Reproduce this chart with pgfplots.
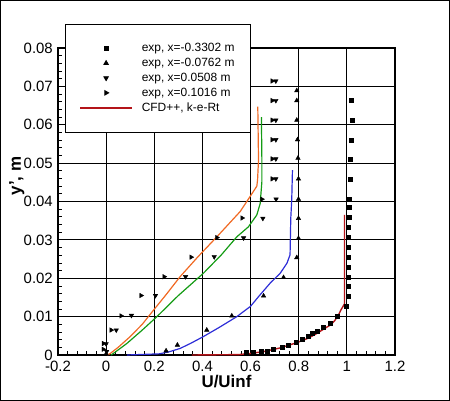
\documentclass[border=0pt]{standalone}
\usepackage{pgfplots}
\pgfplotsset{compat=1.18}
\usepackage{fontspec}
\setmainfont{Liberation Sans}
\definecolor{cfdred}{RGB}{180,20,25}
\definecolor{cfdblue}{RGB}{45,45,215}
\definecolor{cfdgreen}{RGB}{20,155,20}
\definecolor{cfdorange}{RGB}{240,105,35}
\begin{document}
\begin{tikzpicture}[x=1bp,y=1bp]
\begin{axis}[
  at={(58bp,46bp)}, anchor=south west,
  scale only axis, width=337bp, height=307bp,
  xmin=-0.2, xmax=1.2, ymin=0, ymax=0.08,
  scaled x ticks=false, scaled y ticks=false,
  xtick={-0.2,0,0.2,0.4,0.6,0.8,1,1.2},
  xticklabels={-0.2,0,0.2,0.4,0.6,0.8,1,1.2},
  ytick={0,0.01,0.02,0.03,0.04,0.05,0.06,0.07,0.08},
  yticklabels={0,0.01,0.02,0.03,0.04,0.05,0.06,0.07,0.08},
  minor x tick num=4, minor y tick num=4,
  xtick pos=lower, ytick pos=left,
  tick align=inside,
  major tick length=8bp, minor tick length=4bp,
  tick style={black, line width=0.8bp},
  grid=major,
  major grid style={black, line width=0.8bp},
  axis line style={black, line width=1.6bp},
  ticklabel style={font=\fontsize{15}{17}\selectfont},
  xticklabel style={inner sep=0pt, yshift=-6bp},
  yticklabel style={inner sep=0pt, xshift=-5bp},
  xlabel={\textbf{U/Uinf}},
  ylabel={\textbf{y', m}},
  label style={font=\fontsize{17}{19}\selectfont},
  xlabel style={at={(axis description cs:0.5,-0.088)}, anchor=center},
  ylabel style={at={(axis description cs:-0.122,0.583)}, anchor=center},
  legend cell align=left,
  legend image code/.code={\draw[mark repeat=2,mark phase=2,#1] plot coordinates {(0bp,0bp) (26bp,0bp) (52bp,0bp)};},
  legend style={at={(axis description cs:0.0208,1.078)}, anchor=north west,
    font=\fontsize{12}{14}\selectfont, draw=black, line width=0.8bp, fill=white,
    inner xsep=14bp, inner ysep=17bp, row sep=1bp,
    /tikz/every odd column/.append style={column sep=7bp}},
]
% exp, x=-0.3302 m
\addplot[only marks, mark=square*, mark size=2bp, black] coordinates {
(0.582,0.0006)(0.612,0.0007)(0.643,0.0010)(0.668,0.0011)(0.695,0.0015)(0.730,0.0020)
(0.757,0.0026)(0.789,0.0033)(0.815,0.0042)(0.838,0.0050)(0.858,0.0056)(0.878,0.0063)
(0.902,0.0072)(0.930,0.0084)(0.958,0.0102)(0.996,0.0128)(1.007,0.0154)(1.007,0.0180)
(1.007,0.0204)(1.007,0.0230)(1.007,0.0256)(1.007,0.0282)(1.007,0.0307)(1.007,0.0332)
(1.009,0.0359)(1.009,0.0384)(1.009,0.0407)(1.012,0.0459)(1.012,0.0511)(1.018,0.0560)
(1.022,0.0612)(1.018,0.0663)};
\addlegendentry{exp, x=-0.3302 m}
% exp, x=-0.0762 m
\addplot[only marks, mark=triangle*, mark size=2.6bp, black] coordinates {
(0.000,0.0003)(0.249,0.0011)(0.296,0.0026)(0.418,0.0065)(0.522,0.0102)(0.654,0.0154)
(0.737,0.0202)(0.792,0.0254)(0.799,0.0304)(0.799,0.0356)(0.799,0.0406)(0.799,0.0459)
(0.797,0.0513)(0.795,0.0561)(0.792,0.0612)(0.792,0.0663)(0.792,0.0689)};
\addlegendentry{exp, x=-0.0762 m}
% exp, x=0.0508 m
\addplot[only marks, mark=triangle*, mark size=2.6bp, black, every mark/.append style={rotate=180}] coordinates {
(0.002,0.0009)(0.000,0.0029)(0.042,0.0065)(0.105,0.0103)(0.205,0.0155)(0.330,0.0204)
(0.449,0.0256)(0.571,0.0305)(0.651,0.0356)(0.706,0.0406)(0.705,0.0459)(0.705,0.0511)
(0.705,0.0561)(0.705,0.0612)(0.705,0.0663)(0.705,0.0714)};
\addlegendentry{exp, x=0.0508 m}
% exp, x=0.1016 m
\addplot[only marks, mark=triangle*, mark size=2.6bp, black, every mark/.append style={rotate=-90}] coordinates {
(-0.012,0.0015)(-0.011,0.0030)(0.021,0.0065)(0.062,0.0102)(0.145,0.0155)(0.241,0.0204)
(0.353,0.0255)(0.460,0.0306)(0.565,0.0357)(0.647,0.0406)(0.690,0.0459)(0.690,0.0511)
(0.690,0.0561)(0.690,0.0612)(0.690,0.0663)(0.690,0.0714)};
\addlegendentry{exp, x=0.1016 m}
% CFD curves
\addplot[cfdred, line width=1.4bp, mark=none] coordinates {
(0.356,0)(0.55,0.0001)(0.60,0.0004)(0.654,0.0009)(0.72,0.0018)(0.792,0.0032)(0.84,0.0044)
(0.875,0.0056)(0.905,0.0068)(0.931,0.0078)(0.950,0.0090)(0.965,0.0104)(0.975,0.0117)
(0.990,0.0133)(0.990,0.0365)};
\addlegendentry{CFD++, k-e-Rt}
\addplot[cfdblue, line width=1.2bp, mark=none, forget plot] coordinates {
(0.086,0)(0.22,0.0003)(0.26,0.0008)(0.307,0.0017)(0.35,0.0030)(0.404,0.0048)(0.47,0.0072)
(0.543,0.0100)(0.60,0.0127)(0.633,0.0152)(0.681,0.0187)(0.723,0.0213)(0.751,0.0239)
(0.764,0.0261)(0.767,0.0356)(0.771,0.0404)(0.774,0.0482)};
\addplot[cfdgreen, line width=1.2bp, mark=none, forget plot] coordinates {
(0.02,0)(0.030,0.0004)(0.086,0.0030)(0.15,0.0065)(0.211,0.0100)(0.30,0.0155)(0.404,0.0213)
(0.48,0.0262)(0.543,0.0308)(0.591,0.0334)(0.626,0.0365)(0.640,0.0395)(0.647,0.0452)
(0.647,0.0508)(0.645,0.0620)};
\addplot[cfdorange, line width=1.2bp, mark=none, forget plot] coordinates {
(0.005,0)(0.017,0.0004)(0.05,0.0020)(0.100,0.0048)(0.150,0.0080)(0.197,0.0117)(0.25,0.0158)
(0.307,0.0204)(0.38,0.0255)(0.460,0.0308)(0.557,0.0374)(0.598,0.0413)(0.626,0.0440)
(0.629,0.0456)(0.633,0.0508)(0.630,0.0647)};
\end{axis}
\draw[black, line width=1bp] (0.5bp,0.5bp) rectangle (449.5bp,400.5bp);
\pgfresetboundingbox
\useasboundingbox (0,0) rectangle (450bp,401bp);
\end{tikzpicture}
\end{document}
